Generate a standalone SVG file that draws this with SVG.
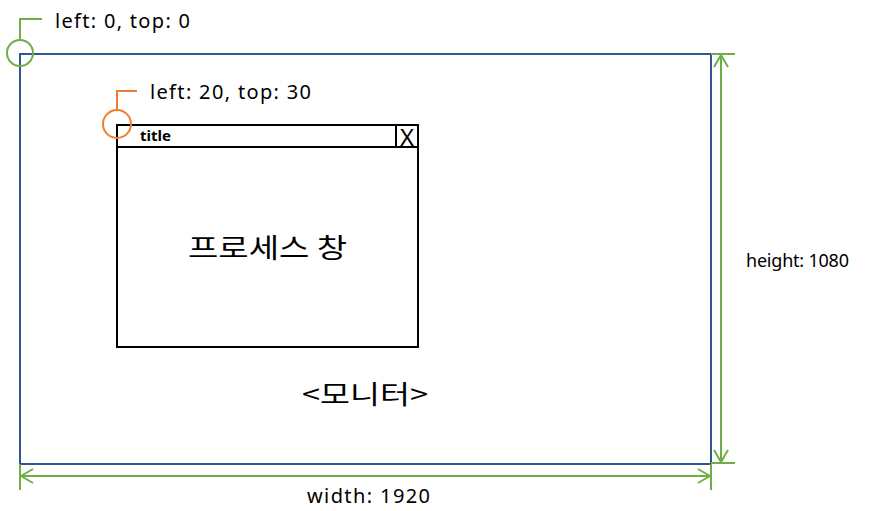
<svg xmlns="http://www.w3.org/2000/svg" width="880" height="511" viewBox="0 0 880 511">
<defs>
<style>
.lbl{font-family:"Noto Sans","Noto Sans CJK KR",sans-serif;fill:#000}
.ko{font-family:"Noto Sans CJK KR","Noto Sans",sans-serif;fill:#000}
.s{font-size:20px}
.g{stroke:#70AD47;stroke-width:2;fill:none}
.o{stroke:#ED7D31;stroke-width:2;fill:none}
.k{stroke:#000;stroke-width:2;fill:none}
</style>
<marker id="ah" viewBox="0 0 14 16" refX="13" refY="8" markerWidth="14" markerHeight="16" markerUnits="userSpaceOnUse" orient="auto-start-reverse">
<path d="M1,1 L13,8 L1,15" fill="none" stroke="#70AD47" stroke-width="2"/>
</marker>
</defs>
<rect width="880" height="511" fill="#fff"/>
<g id="monitor">
<rect x="20" y="54" width="691" height="410" fill="none" stroke="#2F5597" stroke-width="2"/>
<text class="ko" x="302" y="404" font-size="26" textLength="126" lengthAdjust="spacingAndGlyphs">&lt;모니터&gt;</text>
</g>
<g id="window">
<rect x="117" y="125" width="301" height="222" class="k" fill="#fff"/>
<line x1="117" y1="147" x2="418" y2="147" class="k"/>
<line x1="396" y1="125" x2="396" y2="147" class="k"/>
<text class="lbl" x="140" y="141" font-size="15" font-weight="bold" textLength="31">title</text>
<text class="lbl" x="407" y="146" font-size="24" text-anchor="middle">X</text>
<text class="ko" x="188" y="258" font-size="27" textLength="159" lengthAdjust="spacingAndGlyphs">프로세스 창</text>
</g>
<g id="origin-marker">
<circle cx="20" cy="53" r="13" class="g"/>
<polyline points="20,40 20,19 42,19" class="g"/>
<text class="lbl s" x="55" y="28" textLength="135">left: 0, top: 0</text>
</g>
<g id="window-marker">
<circle cx="117" cy="124" r="14" class="o"/>
<polyline points="117,110 117,91 137,91" class="o"/>
<text class="lbl s" x="150" y="99" textLength="161">left: 20, top: 30</text>
</g>
<g id="connectors">
<line x1="711" y1="54" x2="735" y2="54" class="g"/>
<line x1="711" y1="463" x2="735" y2="463" class="g"/>
<line x1="721" y1="55" x2="721" y2="462" class="g" marker-start="url(#ah)" marker-end="url(#ah)"/>
<line x1="20" y1="464" x2="20" y2="490" class="g"/>
<line x1="711" y1="464" x2="711" y2="490" class="g"/>
<line x1="21" y1="476" x2="710" y2="476" class="g" marker-start="url(#ah)" marker-end="url(#ah)"/>
</g>
<g id="dimension-labels">
<text class="lbl s" x="307" y="503" textLength="123">width: 1920</text>
<text class="lbl" x="746" y="267" font-size="18" textLength="103">height: 1080</text>
</g>
</svg>
